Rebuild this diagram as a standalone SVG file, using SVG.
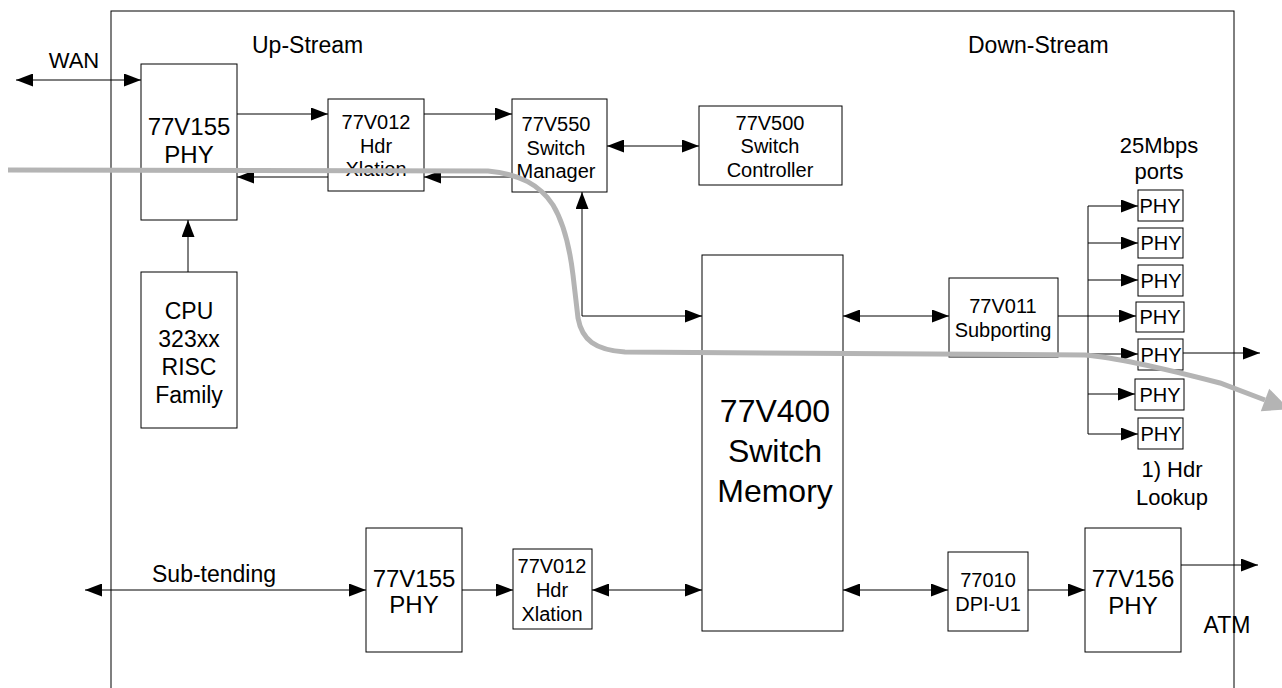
<svg xmlns="http://www.w3.org/2000/svg" width="1282" height="688" viewBox="0 0 1282 688">
<style>
.box{fill:#fff;stroke:#000;stroke-width:1}
.ln{fill:none;stroke:#000;stroke-width:1}
text{font-family:"Liberation Sans",Arial,sans-serif;fill:#000;text-anchor:middle}
.f20{font-size:20px}.f22{font-size:22px}.f23{font-size:23px}.f24{font-size:24px}.f32{font-size:32px}
.l{text-anchor:start}
</style>
<defs>
<marker id="ah" markerUnits="userSpaceOnUse" markerWidth="17" markerHeight="13" refX="17" refY="6.5" orient="auto-start-reverse" viewBox="0 0 17 13">
<path d="M0,0 L17,6.5 L0,13 z" fill="#000"/>
</marker>
</defs>
<rect id="frame" x="111" y="11" width="1123" height="720" fill="none" stroke="#000" stroke-width="1"/>
<g id="labels">
<text class="f22" x="74" y="68">WAN</text>
<text class="f23 l" x="252" y="53">Up-Stream</text>
<text class="f23 l" x="968" y="53">Down-Stream</text>
<text class="f22" x="1159" y="153">25Mbps</text>
<text class="f22" x="1159" y="179">ports</text>
<text class="f22" x="1172" y="477">1) Hdr</text>
<text class="f22" x="1172" y="505">Lookup</text>
<text class="f23 l" x="152" y="582">Sub-tending</text>
<text class="f23" x="1227" y="633">ATM</text>
</g>
<g id="phy-top"><rect class="box" x="141" y="64" width="96" height="156"/><text class="f24" x="189" y="135">77V155</text><text class="f24" x="189" y="163">PHY</text></g>
<g id="hdr-top"><rect class="box" x="328" y="99" width="96" height="92"/><text class="f20" x="376" y="129">77V012</text><text class="f20" x="376" y="153">Hdr</text><text class="f20" x="376" y="176">Xlation</text></g>
<g id="sw-manager"><rect class="box" x="512" y="99" width="95" height="93"/><text class="f20" x="556" y="131">77V550</text><text class="f20" x="556" y="155">Switch</text><text class="f20" x="556" y="178">Manager</text></g>
<g id="sw-controller"><rect class="box" x="699" y="106" width="143" height="79"/><text class="f20" x="770" y="130">77V500</text><text class="f20" x="770" y="153">Switch</text><text class="f20" x="770" y="177">Controller</text></g>
<g id="cpu"><rect class="box" x="141" y="272" width="96" height="156"/><text class="f23" x="189" y="319">CPU</text><text class="f23" x="189" y="347">323xx</text><text class="f23" x="189" y="375">RISC</text><text class="f23" x="189" y="403">Family</text></g>
<g id="memory"><rect class="box" x="702" y="255" width="141" height="376"/><text class="f32" x="775" y="422">77V400</text><text class="f32" x="775" y="462">Switch</text><text class="f32" x="775" y="502">Memory</text></g>
<g id="subporting"><rect class="box" x="949" y="278" width="109" height="79"/><text class="f20" x="1003" y="313">77V011</text><text class="f20" x="1003" y="337">Subporting</text></g>
<g id="phy1"><rect class="box" x="1138" y="190" width="45" height="31"/><text class="f20" x="1160" y="213">PHY</text></g>
<g id="phy2"><rect class="box" x="1138" y="228" width="45" height="30"/><text class="f20" x="1161" y="250">PHY</text></g>
<g id="phy3"><rect class="box" x="1138" y="265" width="45" height="31"/><text class="f20" x="1161" y="288">PHY</text></g>
<g id="phy4"><rect class="box" x="1136" y="302" width="48" height="30"/><text class="f20" x="1160" y="324">PHY</text></g>
<g id="phy5"><rect class="box" x="1138" y="339" width="45" height="31"/><text class="f20" x="1161" y="362">PHY</text></g>
<g id="phy6"><rect class="box" x="1135" y="379" width="49" height="31"/><text class="f20" x="1160" y="402">PHY</text></g>
<g id="phy7"><rect class="box" x="1138" y="418" width="45" height="31"/><text class="f20" x="1161" y="441">PHY</text></g>
<g id="phy-bottom"><rect class="box" x="366" y="528" width="96" height="124"/><text class="f24" x="414" y="587">77V155</text><text class="f24" x="414" y="613">PHY</text></g>
<g id="hdr-bottom"><rect class="box" x="513" y="549" width="79" height="80"/><text class="f20" x="552" y="573">77V012</text><text class="f20" x="552" y="597">Hdr</text><text class="f20" x="552" y="621">Xlation</text></g>
<g id="dpi"><rect class="box" x="948" y="552" width="80" height="79"/><text class="f20" x="988" y="587">77010</text><text class="f20" x="988" y="611">DPI-U1</text></g>
<g id="phy156"><rect class="box" x="1085" y="528" width="96" height="124"/><text class="f24" x="1133" y="587">77V156</text><text class="f24" x="1133" y="614">PHY</text></g>
<g id="connectors">
<path class="ln" d="M16,80 H141" marker-start="url(#ah)" marker-end="url(#ah)"/>
<path class="ln" d="M237,114 H328" marker-end="url(#ah)"/>
<path class="ln" d="M328,177 H237" marker-end="url(#ah)"/>
<path class="ln" d="M424,114 H512" marker-end="url(#ah)"/>
<path class="ln" d="M512,177 H424" marker-end="url(#ah)"/>
<path class="ln" d="M607,146 H699" marker-start="url(#ah)" marker-end="url(#ah)"/>
<path class="ln" d="M188,272 V220" marker-end="url(#ah)"/>
<path class="ln" d="M582,192 V316 H702" marker-start="url(#ah)" marker-end="url(#ah)"/>
<path class="ln" d="M843,316 H949" marker-start="url(#ah)" marker-end="url(#ah)"/>
<path class="ln" d="M1058,316 H1136" marker-end="url(#ah)"/>
<path class="ln" d="M1088,206 V434"/>
<path class="ln" d="M1088,206 H1138" marker-end="url(#ah)"/>
<path class="ln" d="M1088,243 H1138" marker-end="url(#ah)"/>
<path class="ln" d="M1088,280 H1138" marker-end="url(#ah)"/>
<path class="ln" d="M1088,354 H1138" marker-end="url(#ah)"/>
<path class="ln" d="M1088,394 H1135" marker-end="url(#ah)"/>
<path class="ln" d="M1088,434 H1138" marker-end="url(#ah)"/>
<path class="ln" d="M1183,353 H1260" marker-end="url(#ah)"/>
<path class="ln" d="M85,590 H366" marker-start="url(#ah)" marker-end="url(#ah)"/>
<path class="ln" d="M462,590 H513" marker-end="url(#ah)"/>
<path class="ln" d="M592,590 H702" marker-start="url(#ah)" marker-end="url(#ah)"/>
<path class="ln" d="M843,590 H948" marker-start="url(#ah)" marker-end="url(#ah)"/>
<path class="ln" d="M1028,590 H1085" marker-end="url(#ah)"/>
<path class="ln" d="M1181,565 H1258" marker-end="url(#ah)"/>
<path d="M8,170 L488,171 C520,174 540,185 553,205 C565,225 570,250 573,275 L578,318 C582,340 595,350 625,352 L1085,355 C1120,358 1170,370 1220,383 L1265,400" fill="none" stroke="#b4b4b4" stroke-width="5"/>
<polygon points="1260.8,411.2 1269.2,388.8 1289.3,409.2" fill="#b4b4b4"/>
</g>
</svg>
